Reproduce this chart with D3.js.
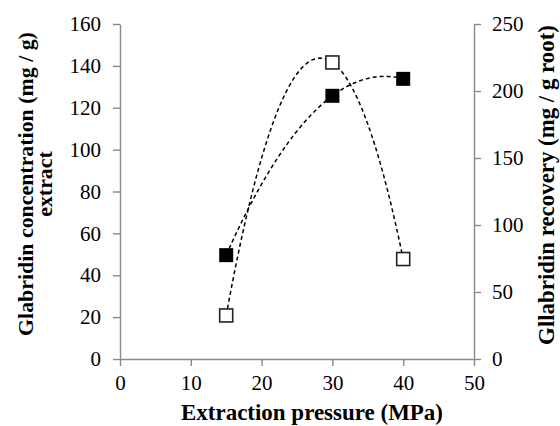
<!DOCTYPE html>
<html>
<head>
<meta charset="utf-8">
<script src="https://cdn.jsdelivr.net/npm/d3@7"></script>
<style>
  html, body { margin: 0; padding: 0; background: #fff; }
  svg { display: block; }
</style>
</head>
<body>
<svg id="chart" width="560" height="426"></svg>
<script>
// Extraction pressure (MPa)
const pressure = [15, 30, 40];
// Glabridin concentration in extract (mg / g), left axis
const concentration = [49.6, 125.7, 133.8];
// Glabridin recovery (mg / g root), right axis
const recovery = [32.5, 221.3, 74.6];

const xTicks = [0, 10, 20, 30, 40, 50];
const yLeftTicks = [0, 20, 40, 60, 80, 100, 120, 140, 160];
const yRightTicks = [0, 50, 100, 150, 200, 250];

const serif = '"Liberation Serif", "Times New Roman", Times, "DejaVu Serif", serif';
const svg = d3.select("#chart");
const plotLeft = 120, plotRight = 474, plotTop = 24, plotBottom = 359;
const axisColor = "#898989";

const x = d3.scaleLinear().domain([0, 50]).range([plotLeft, plotRight]);
const yL = d3.scaleLinear().domain([0, 160]).range([plotBottom, plotTop]);
const yR = d3.scaleLinear().domain([0, 250]).range([plotBottom, plotTop]);

function styleAxis(g) {
  g.attr("font-family", serif).attr("font-size", 21);
  g.select(".domain").attr("stroke", axisColor).attr("stroke-width", 1.4);
  g.selectAll(".tick line").attr("stroke", axisColor).attr("stroke-width", 1.4);
  g.selectAll(".tick text").attr("fill", "#000");
}

svg.append("g")
  .attr("transform", `translate(0,${plotBottom})`)
  .call(d3.axisBottom(x).tickValues(xTicks).tickSize(7).tickSizeOuter(0).tickPadding(9))
  .call(styleAxis);

svg.append("g")
  .attr("transform", `translate(${plotLeft},0)`)
  .call(d3.axisLeft(yL).tickValues(yLeftTicks).tickSize(7).tickSizeOuter(0).tickPadding(12))
  .call(styleAxis);

svg.append("g")
  .attr("transform", `translate(${plotRight},0)`)
  .call(d3.axisRight(yR).tickValues(yRightTicks).tickSize(7).tickSizeOuter(0).tickPadding(11))
  .call(styleAxis);

// Second-order polynomial trendline through a series, drawn over the measured range
function quadFit(xs, ys) {
  // least-squares fit of y = c0 + c1 x + c2 x^2
  const S = k => d3.sum(xs, v => Math.pow(v, k));
  const T = k => d3.sum(xs, (v, i) => ys[i] * Math.pow(v, k));
  const A = [[S(0), S(1), S(2)], [S(1), S(2), S(3)], [S(2), S(3), S(4)]];
  const b = [T(0), T(1), T(2)];
  // Gaussian elimination
  for (let i = 0; i < 3; i++) {
    for (let j = i + 1; j < 3; j++) {
      const f = A[j][i] / A[i][i];
      for (let k = i; k < 3; k++) A[j][k] -= f * A[i][k];
      b[j] -= f * b[i];
    }
  }
  const c = [0, 0, 0];
  for (let i = 2; i >= 0; i--) {
    let s = b[i];
    for (let k = i + 1; k < 3; k++) s -= A[i][k] * c[k];
    c[i] = s / A[i][i];
  }
  return v => c[0] + c[1] * v + c[2] * v * v;
}

function trend(ys, yScale) {
  const f = quadFit(pressure, ys);
  const [a, b] = d3.extent(pressure);
  const xs = d3.range(0, 101).map(i => a + (b - a) * i / 100);
  return d3.line().x(v => x(v)).y(v => yScale(f(v)))(xs);
}

svg.append("path").attr("d", trend(recovery, yR))
  .attr("fill", "none").attr("stroke", "#000").attr("stroke-width", 1.5)
  .attr("stroke-dasharray", "4,3");
svg.append("path").attr("d", trend(concentration, yL))
  .attr("fill", "none").attr("stroke", "#000").attr("stroke-width", 1.5)
  .attr("stroke-dasharray", "4,3");

// Recovery markers: open squares
const so = 13;
svg.selectAll(".open").data(recovery).enter().append("rect")
  .attr("x", (d, i) => x(pressure[i]) - so / 2)
  .attr("y", d => yR(d) - so / 2)
  .attr("width", so).attr("height", so)
  .attr("fill", "#fff").attr("stroke", "#222").attr("stroke-width", 1.6);

// Concentration markers: filled squares
const sf = 14;
svg.selectAll(".filled").data(concentration).enter().append("rect")
  .attr("x", (d, i) => x(pressure[i]) - sf / 2)
  .attr("y", d => yL(d) - sf / 2)
  .attr("width", sf).attr("height", sf)
  .attr("fill", "#000");

// Axis titles, sized so each spans its intended length
function titleText(sel, width) {
  sel.attr("font-family", serif).attr("font-weight", "bold").attr("font-size", 20)
    .attr("fill", "#000").attr("text-anchor", "middle");
  const len = sel.node().getComputedTextLength();
  const size = 20 * width / len;
  sel.attr("font-size", size);
  return size;
}

const xt = svg.append("text").attr("x", 312).attr("y", 420)
  .text("Extraction pressure (MPa)");
titleText(xt, 262);

const lt = svg.append("text").attr("transform", "translate(33,184) rotate(-90)");
const l1 = lt.append("tspan").attr("x", 0).attr("y", 0).text("Glabridin concentration (mg / g)");
lt.attr("font-family", serif).attr("font-weight", "bold").attr("font-size", 20)
  .attr("fill", "#000").attr("text-anchor", "middle");
const lsize = 20 * 304 / l1.node().getComputedTextLength();
lt.attr("font-size", lsize);
lt.append("tspan").attr("x", 0).attr("y", 19).text("extract");

const rt = svg.append("text").attr("transform", "translate(554,185) rotate(-90)")
  .text("Gllabridin recovery (mg / g root)");
titleText(rt, 320);
</script>
</body>
</html>
